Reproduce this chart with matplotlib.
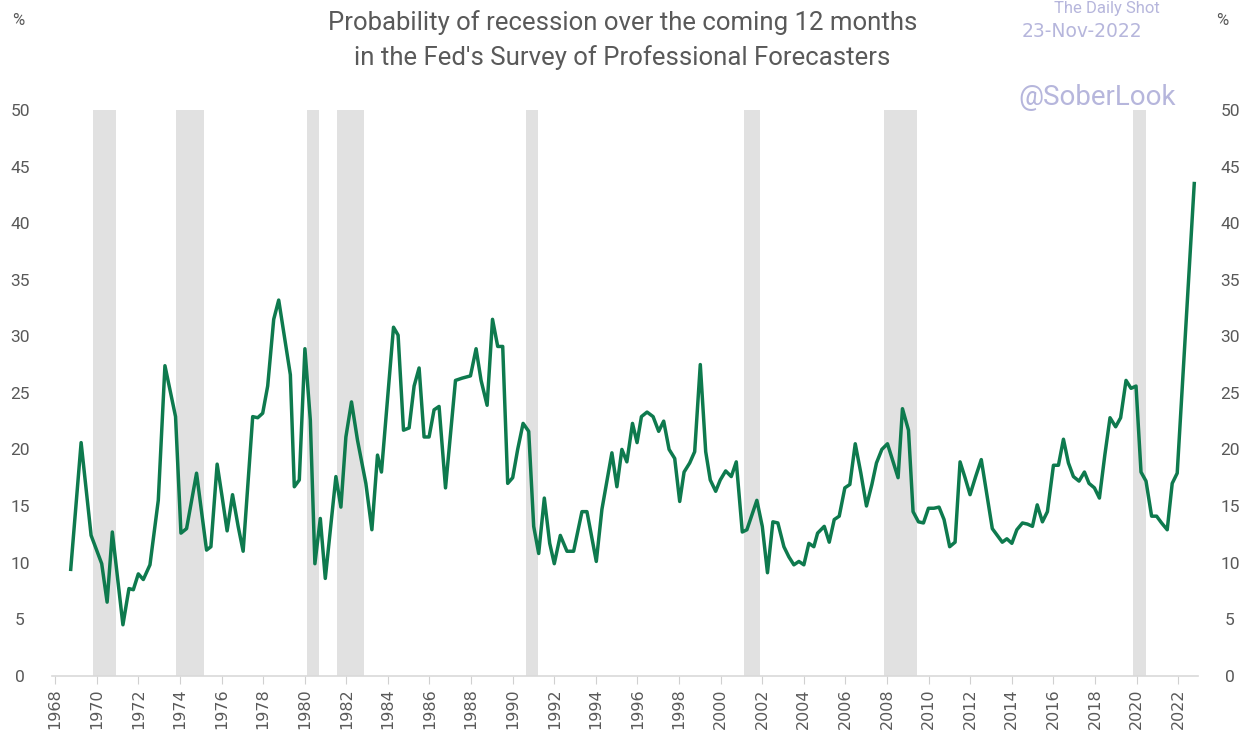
import matplotlib
matplotlib.use("Agg")
import matplotlib.pyplot as plt

# survey dates (decimal years) and recession probability (%)
dates = [
    1968.75, 1969.25, 1969.73, 1970.24, 1970.50, 1970.75, 1971.26, 1971.55, 1971.76, 1972.00,
    1972.24, 1972.56, 1972.96, 1973.28, 1973.52, 1973.79, 1974.05, 1974.32, 1974.80, 1975.28,
    1975.49, 1975.79, 1976.03, 1976.27, 1976.53, 1976.80, 1977.04, 1977.50, 1977.74, 1977.98,
    1978.22, 1978.51, 1978.75, 1979.02, 1979.31, 1979.50, 1979.74, 1980.01, 1980.27, 1980.49,
    1980.75, 1980.99, 1981.50, 1981.74, 1981.98, 1982.25, 1982.54, 1982.94, 1983.23, 1983.50,
    1983.69, 1984.27, 1984.49, 1984.75, 1985.02, 1985.26, 1985.50, 1985.74, 1985.98, 1986.22,
    1986.46, 1986.77, 1987.25, 1987.57, 1987.97, 1988.24, 1988.48, 1988.77, 1989.03, 1989.28,
    1989.52, 1989.76, 1990.00, 1990.24, 1990.50, 1990.77, 1991.01, 1991.25, 1991.52, 1991.78,
    1992.00, 1992.29, 1992.61, 1992.93, 1993.33, 1993.57, 1994.02, 1994.29, 1994.77, 1995.01,
    1995.25, 1995.49, 1995.76, 1995.98, 1996.19, 1996.46, 1996.75, 1997.02, 1997.26, 1997.52,
    1997.79, 1998.03, 1998.24, 1998.51, 1998.75, 1999.02, 1999.28, 1999.50, 1999.76, 1999.98,
    2000.24, 2000.51, 2000.75, 2001.04, 2001.26, 2001.74, 2002.00, 2002.25, 2002.51, 2002.75,
    2003.04, 2003.28, 2003.52, 2003.76, 2004.00, 2004.24, 2004.48, 2004.66, 2004.98, 2005.22,
    2005.46, 2005.70, 2005.97, 2006.21, 2006.47, 2006.74, 2007.01, 2007.27, 2007.49, 2007.75,
    2008.02, 2008.29, 2008.53, 2008.74, 2009.03, 2009.25, 2009.51, 2009.75, 2009.99, 2010.25,
    2010.50, 2010.74, 2011.01, 2011.27, 2011.51, 2011.75, 2011.99, 2012.26, 2012.53, 2012.79,
    2013.06, 2013.30, 2013.54, 2013.76, 2014.00, 2014.24, 2014.51, 2014.75, 2014.99, 2015.22,
    2015.47, 2015.71, 2016.00, 2016.24, 2016.48, 2016.72, 2016.96, 2017.23, 2017.49, 2017.71,
    2017.97, 2018.21, 2018.47, 2018.72, 2018.99, 2019.23, 2019.49, 2019.73, 2019.97, 2020.21,
    2020.45, 2020.72, 2020.96, 2021.20, 2021.47, 2021.71, 2021.95, 2022.77,
]
prob = [
    9.4, 20.6, 12.4, 9.9, 6.5, 12.7, 4.5, 7.7, 7.6, 9.0,
    8.5, 9.8, 15.5, 27.4, 25.3, 22.9, 12.6, 13.0, 17.9, 11.1,
    11.4, 18.7, 15.8, 12.8, 16.0, 13.2, 11.0, 22.9, 22.8, 23.2,
    25.6, 31.5, 33.2, 30.0, 26.6, 16.7, 17.3, 28.9, 22.6, 9.9,
    13.9, 8.6, 17.6, 14.9, 21.1, 24.2, 20.8, 17.0, 12.9, 19.5,
    18.0, 30.8, 30.1, 21.7, 21.9, 25.6, 27.2, 21.1, 21.1, 23.5,
    23.8, 16.6, 26.1, 26.3, 26.5, 28.9, 26.1, 23.9, 31.5, 29.1,
    29.1, 17.0, 17.5, 20.0, 22.3, 21.6, 13.2, 10.8, 15.7, 11.7,
    9.9, 12.4, 11.0, 11.0, 14.5, 14.5, 10.1, 14.7, 19.7, 16.7,
    20.0, 18.9, 22.3, 20.6, 22.9, 23.3, 22.9, 21.6, 22.5, 20.0,
    19.2, 15.4, 18.0, 18.8, 19.8, 27.5, 19.8, 17.3, 16.3, 17.3,
    18.1, 17.6, 18.9, 12.7, 12.9, 15.5, 13.2, 9.1, 13.6, 13.5,
    11.4, 10.5, 9.8, 10.1, 9.8, 11.7, 11.4, 12.6, 13.2, 11.8,
    13.8, 14.1, 16.6, 16.9, 20.5, 17.9, 15.0, 16.9, 18.8, 20.0,
    20.5, 18.9, 17.5, 23.6, 21.7, 14.5, 13.6, 13.5, 14.8, 14.8,
    14.9, 13.8, 11.4, 11.8, 18.9, 17.5, 16.0, 17.6, 19.1, 16.1,
    13.0, 12.4, 11.8, 12.1, 11.7, 12.9, 13.5, 13.4, 13.2, 15.1,
    13.6, 14.5, 18.6, 18.6, 20.9, 18.8, 17.6, 17.2, 18.0, 17.0,
    16.6, 15.7, 19.5, 22.8, 22.0, 22.8, 26.1, 25.4, 25.6, 18.0,
    17.2, 14.1, 14.1, 13.5, 12.9, 17.0, 17.9, 43.5,
]

# recession periods (start, end)
rec_start = [1969.81, 1973.83, 1980.10, 1981.57, 1990.63, 2001.10, 2007.85, 2019.83]
rec_end = [1970.92, 1975.14, 1980.70, 1982.85, 1991.20, 2001.90, 2009.45, 2020.43]

year_ticks = list(range(1968, 2023, 2))
y_ticks = list(range(0, 51, 5))

grey = "#595959"
purple = "#b6b6dc"
plt.rcParams["font.family"] = ["Roboto", "DejaVu Sans"]

fig = plt.figure(figsize=(12.52, 7.42), dpi=100)
ax = fig.add_axes([52 / 1252, 1 - 675.7 / 742, (1198 - 52) / 1252, (675.7 - 110) / 742])

for s, e in zip(rec_start, rec_end):
    ax.axvspan(s, e, color="#e1e1e1", lw=0, zorder=0)

ax.plot(dates, prob, color="#0e7a4e", lw=2.5, zorder=3)

ax.set_xlim(1967.85, 2022.95)
ax.set_ylim(0, 50)

ax.set_xticks(year_ticks)
ax.set_xticklabels([str(y) for y in year_ticks], rotation=90, color=grey,
                   fontsize=11.5, family="DejaVu Sans")
ax.tick_params(axis="x", length=6, color="#d0d0d0", pad=3)

ax.set_yticks(y_ticks)
ax.tick_params(axis="y", length=0, labelsize=12.5, labelcolor=grey,
               labelright=True)
for lab in ax.get_yticklabels(which="major"):
    lab.set_horizontalalignment("center")
ax.yaxis.set_tick_params(pad=23)

for side in ["left", "right", "top"]:
    ax.spines[side].set_visible(False)
ax.spines["bottom"].set_color("#d9d9d9")
ax.spines["bottom"].set_linewidth(1.2)

# titles and annotations
fig.text(0.497, 0.970, "Probability of recession over the coming 12 months",
         ha="center", va="center", fontsize=18.5, color=grey)
fig.text(0.497, 0.923, "in the Fed's Survey of Professional Forecasters",
         ha="center", va="center", fontsize=18.5, color=grey)
fig.text(0.0144, 0.973, "%", ha="center", va="center", fontsize=12, color=grey)
fig.text(0.976, 0.973, "%", ha="center", va="center", fontsize=12, color=grey)
fig.text(0.884, 0.988, "The Daily Shot", ha="center", va="center", fontsize=12, color=purple)
fig.text(0.864, 0.958, "23-Nov-2022", ha="center", va="center", fontsize=13.5,
         color=purple, family="DejaVu Sans")
fig.text(0.876, 0.869, "@SoberLook", ha="center", va="center", fontsize=20, color=purple)

fig.savefig("out.png", dpi=100, facecolor="white")
